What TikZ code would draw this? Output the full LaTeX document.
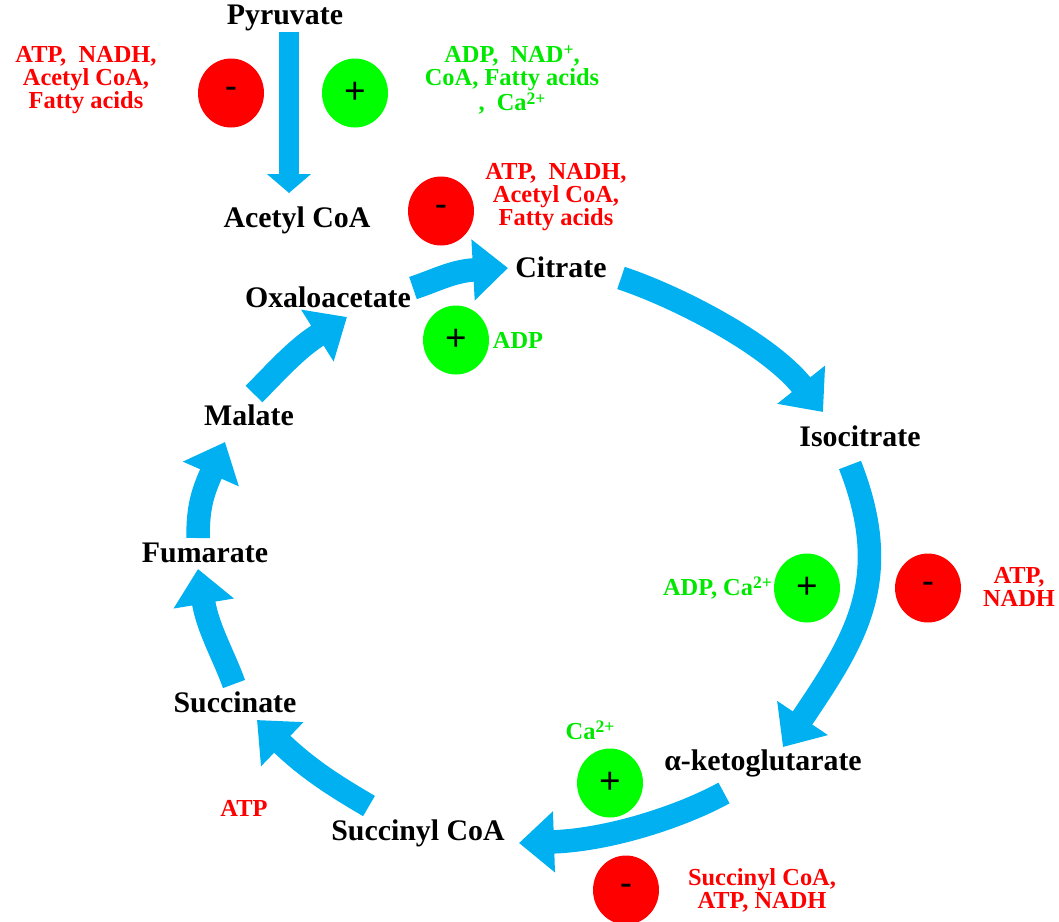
\documentclass[tikz,border=0pt]{standalone}
\usepackage{fontspec}
\setmainfont{Liberation Serif}
\newfontfamily\signfont{Liberation Sans}
\usepackage{xcolor}
\usetikzlibrary{arrows.meta,shapes.geometric}
\definecolor{cycleblue}{RGB}{0,176,240}
\definecolor{inhred}{RGB}{255,0,0}
\definecolor{actgreen}{RGB}{0,255,0}
\definecolor{actgreenfont}{RGB}{0,232,0}
\newcommand{\ionchg}[1]{\raisebox{0.6ex}{\fontsize{10}{10}\selectfont #1}}

\begin{document}
\begin{tikzpicture}[x=0.02cm, y=-0.02cm]
  % Define styles
  \tikzstyle{metab}=[font=\fontsize{17}{20}\selectfont\bfseries, inner sep=1pt]
  \tikzstyle{inhtext}=[font=\fontsize{13.9}{13.2}\selectfont\bfseries, text=inhred, align=center, inner sep=1pt]
  \tikzstyle{acttext}=[font=\fontsize{13.9}{13.2}\selectfont\bfseries, text=actgreenfont, align=center, inner sep=1pt]
  \tikzstyle{inhib}=[ellipse, fill=inhred, minimum width=1.32cm, minimum height=1.38cm, inner sep=0pt, font=\signfont\fontsize{21}{21}\selectfont]
  \tikzstyle{activ}=[ellipse, fill=actgreen, minimum width=1.32cm, minimum height=1.38cm, inner sep=0pt, font=\signfont\fontsize{21}{21}\selectfont]
  \tikzstyle{flow}=[draw=cycleblue, line width=0.47cm, -{Triangle[width=1.18cm, length=0.7cm]}]
  \tikzstyle{feed}=[draw=cycleblue, line width=0.4cm, -{Triangle[width=0.86cm, length=0.38cm]}]

  \useasboundingbox (0,0) rectangle (1059,921);

  % Metabolites
  \node[metab] (pyr)  at (285,18)  {Pyruvate};
  \node[metab] (acoa) at (297,220) {Acetyl CoA};
  \node[metab] (cit)  at (561,267) {Citrate};
  \node[metab] (iso)  at (860,436) {Isocitrate};
  \node[metab] (akg)  at (763,763) {α-ketoglutarate};
  \node[metab] (scoa) at (418,833) {Succinyl CoA};
  \node[metab] (succ) at (235,702) {Succinate};
  \node[metab] (fum)  at (205,553) {Fumarate};
  \node[metab] (mal)  at (249,415) {Malate};
  \node[metab] (oaa)  at (328,297) {Oxaloacetate};

  % Regulators
  \node[inhib] (pdh-)  at (231,93)  {-};
  \node[activ] (pdh+)  at (355,93)  {+};
  \node[inhib] (cs-)   at (441,211) {-};
  \node[activ] (cs+)   at (456,340) {+};
  \node[activ] (idh+)  at (807,588) {+};
  \node[inhib] (idh-)  at (928,588) {-};
  \node[activ] (kgdh+) at (610,783) {+};
  \node[inhib] (kgdh-) at (626,890) {-};

  \node[inhtext] (pdh-t)  at (86,80)   {ATP,~ NADH,\\Acetyl CoA,\\Fatty acids};
  \node[acttext] (pdh+t)  at (512,80)  {ADP,~ NAD\ionchg{+},\\CoA, Fatty acids\\,~ Ca\ionchg{2+}};
  \node[inhtext] (cs-t)   at (556,197) {ATP,~ NADH,\\Acetyl CoA,\\Fatty acids};
  \node[acttext] (cs+t)   at (518,340) {ADP};
  \node[acttext, anchor=east] (idh+t) at (774,588) {ADP, Ca\ionchg{2+}};
  \node[inhtext] (idh-t)  at (1019,587) {ATP,\\NADH};
  \node[acttext] (kgdh+t) at (590,730) {Ca\ionchg{2+}};
  \node[inhtext] (kgdh-t) at (762,890) {Succinyl CoA,\\ATP, NADH};
  \node[inhtext] (scs-t)  at (244,808) {ATP};

  % Arrow ends
  \coordinate (pyr-out)  at (289,32);
  \coordinate (acoa-in)  at (289,193);
  \coordinate (oaa-out)  at (413,288);
  \coordinate (cit-in)   at (508,268);
  \coordinate (cit-out)  at (621,278);
  \coordinate (iso-in)   at (823,412);
  \coordinate (iso-out)  at (850,465);
  \coordinate (akg-in)   at (783,747);
  \coordinate (akg-out)  at (724,793);
  \coordinate (scoa-in)  at (519,843);
  \coordinate (scoa-out) at (369,806);
  \coordinate (succ-in)  at (257,720);
  \coordinate (succ-out) at (234,684);
  \coordinate (fum-in)   at (198,569);
  \coordinate (fum-out)  at (198,538);
  \coordinate (mal-in)   at (225,442);
  \coordinate (mal-out)  at (254,394);
  \coordinate (oaa-in)   at (347,317);

  % Edges
  \draw[feed] (pyr-out) -- (acoa-in);
  \draw[flow] (oaa-out) .. controls (437,280) and (453,271) .. (cit-in);
  \draw[flow] (cit-out) .. controls (673,295) and (767,342) .. (iso-in);
  \draw[flow] (iso-out) .. controls (895,580) and (855,640) .. (akg-in);
  \draw[flow] (akg-out) .. controls (682,816) and (610,840) .. (scoa-in);
  \draw[flow] (scoa-out) .. controls (333,785) and (307,768) .. (succ-in);
  \draw[flow] (succ-out) .. controls (224,656) and (208,629) .. (fum-in);
  \draw[flow] (fum-out) .. controls (198,508) and (202,494) .. (mal-in);
  \draw[flow] (mal-out) .. controls (275,373) and (296,349) .. (oaa-in);
\end{tikzpicture}
\end{document}
